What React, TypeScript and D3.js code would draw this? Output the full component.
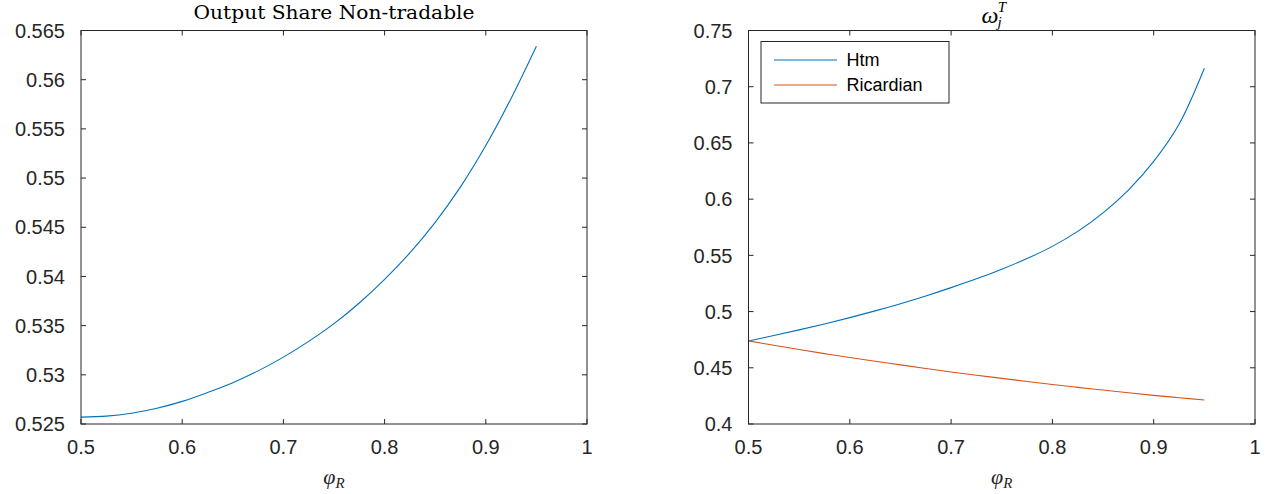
import React from "react";
import * as d3 from "d3";

// Parameter grid for varphi_R
const phiR = [
  0.5, 0.525, 0.55, 0.575, 0.6, 0.625, 0.65, 0.675, 0.7, 0.725, 0.75, 0.775, 0.8,
  0.825, 0.85, 0.875, 0.9, 0.925, 0.95,
];

// Output share of the non-tradable sector
const outputShareNonTradable = [
  0.5257, 0.5258, 0.5261, 0.5266, 0.5273, 0.5282, 0.5292, 0.5304, 0.5318, 0.5334,
  0.5352, 0.5373, 0.5397, 0.5424, 0.5455, 0.5491, 0.5533, 0.5581, 0.5634,
];

// omega_j^T by household type
const omegaHtm = [
  0.4739, 0.4787, 0.4837, 0.489, 0.4946, 0.5006, 0.507, 0.5139, 0.5213, 0.5291,
  0.5377, 0.5472, 0.558, 0.5713, 0.5878, 0.6081, 0.6336, 0.6666, 0.7164,
];
const omegaRicardian = [
  0.4739, 0.47, 0.4662, 0.4626, 0.4591, 0.4558, 0.4526, 0.4494, 0.4463, 0.4434,
  0.4406, 0.4378, 0.4351, 0.4326, 0.4302, 0.4278, 0.4255, 0.4234, 0.4214,
];

const xTicks = [0.5, 0.6, 0.7, 0.8, 0.9, 1];
const leftYTicks = [0.525, 0.53, 0.535, 0.54, 0.545, 0.55, 0.555, 0.56, 0.565];
const rightYTicks = [0.4, 0.45, 0.5, 0.55, 0.6, 0.65, 0.7, 0.75];

const seriesNames = ["Htm", "Ricardian"];
const BLUE = "#0072BD";
const ORANGE = "#D95319";
const AXIS = "#262626";
const SANS = "'Liberation Sans', Arial, Helvetica, sans-serif";
const SERIF = "'DejaVu Serif', 'Liberation Serif', serif";
const MATH = "'Liberation Serif', 'DejaVu Serif', serif";

const TOP = 30.5;
const BOTTOM = 424;
const TICK = 5;

type Series = { values: number[]; color: string };

function Panel(props: {
  left: number;
  right: number;
  yDomain: [number, number];
  yTicks: number[];
  series: Series[];
  title: React.ReactNode;
  legend?: boolean;
}) {
  const { left, right, yDomain, yTicks, series, title, legend } = props;
  const x = d3.scaleLinear().domain([0.5, 1]).range([left, right]);
  const y = d3.scaleLinear().domain(yDomain).range([BOTTOM, TOP]);
  const line = d3
    .line<number>()
    .x((_, i) => x(phiR[i]))
    .y((v) => y(v))
    .curve(d3.curveCatmullRom);
  const cx = (left + right) / 2;

  return (
    <g>
      {series.map((s, i) => (
        <path key={i} d={line(s.values) || ""} fill="none" stroke={s.color} strokeWidth={1.1} />
      ))}
      <rect
        x={left}
        y={TOP}
        width={right - left}
        height={BOTTOM - TOP}
        fill="none"
        stroke={AXIS}
        strokeWidth={1}
      />
      {xTicks.map((t) => (
        <g key={"x" + t}>
          <line x1={x(t)} x2={x(t)} y1={BOTTOM} y2={BOTTOM - TICK} stroke={AXIS} />
          <line x1={x(t)} x2={x(t)} y1={TOP} y2={TOP + TICK} stroke={AXIS} />
          <text
            x={x(t)}
            y={454}
            textAnchor="middle"
            fontFamily={SANS}
            fontSize={20}
            fill={AXIS}
          >
            {String(t)}
          </text>
        </g>
      ))}
      {yTicks.map((t) => (
        <g key={"y" + t}>
          <line x1={left} x2={left + TICK} y1={y(t)} y2={y(t)} stroke={AXIS} />
          <line x1={right} x2={right - TICK} y1={y(t)} y2={y(t)} stroke={AXIS} />
          <text
            x={left - 16}
            y={y(t)}
            dy="0.36em"
            textAnchor="end"
            fontFamily={SANS}
            fontSize={20}
            fill={AXIS}
          >
            {String(t)}
          </text>
        </g>
      ))}
      <g transform={`translate(${cx},0)`}>{title}</g>
      {/* x-axis label: varphi_R */}
      <text x={cx} y={484} textAnchor="middle" fontFamily={MATH} fontSize={22} fill={AXIS}>
        <tspan fontStyle="italic">φ</tspan>
        <tspan fontStyle="italic" fontSize={15} dy={4}>
          R
        </tspan>
      </text>
      {legend && (
        <g>
          <rect
            x={left + 12.5}
            y={41.5}
            width={188}
            height={61.5}
            fill="#fff"
            stroke={AXIS}
            strokeWidth={1}
          />
          {series.map((s, i) => (
            <g key={"lg" + i}>
              <line
                x1={left + 25.5}
                x2={left + 88.5}
                y1={60 + i * 25}
                y2={60 + i * 25}
                stroke={s.color}
                strokeWidth={1.1}
              />
              <text
                x={left + 98}
                y={60 + i * 25}
                dy="0.36em"
                fontFamily={SANS}
                fontSize={18}
                fill="#000"
              >
                {seriesNames[i]}
              </text>
            </g>
          ))}
        </g>
      )}
    </g>
  );
}

export default function App() {
  return (
    <svg
      width={1271}
      height={494}
      style={{ position: "absolute", left: 0, top: 0, background: "#fff" }}
    >
      <rect width={1271} height={494} fill="#fff" />
      <Panel
        left={81}
        right={587}
        yDomain={[0.525, 0.565]}
        yTicks={leftYTicks}
        series={[{ values: outputShareNonTradable, color: BLUE }]}
        title={
          <text
            x={0}
            y={19}
            textAnchor="middle"
            fontFamily={SERIF}
            fontSize={19}
            textLength={281}
            lengthAdjust="spacingAndGlyphs"
            fill="#000"
          >
            Output Share Non-tradable
          </text>
        }
      />
      <Panel
        left={748.5}
        right={1255}
        yDomain={[0.4, 0.75]}
        yTicks={rightYTicks}
        series={[
          { values: omegaHtm, color: BLUE },
          { values: omegaRicardian, color: ORANGE },
        ]}
        legend
        title={
          <text x={-8} y={23} textAnchor="middle" fontFamily={MATH} fontSize={24} fill="#000">
            <tspan fontStyle="italic">ω</tspan>
            <tspan fontStyle="italic" fontSize={15} dx={-1} dy={4}>
              j
            </tspan>
            <tspan fontStyle="italic" fontSize={15} dx={-4} dy={-15}>
              T
            </tspan>
          </text>
        }
      />
    </svg>
  );
}
